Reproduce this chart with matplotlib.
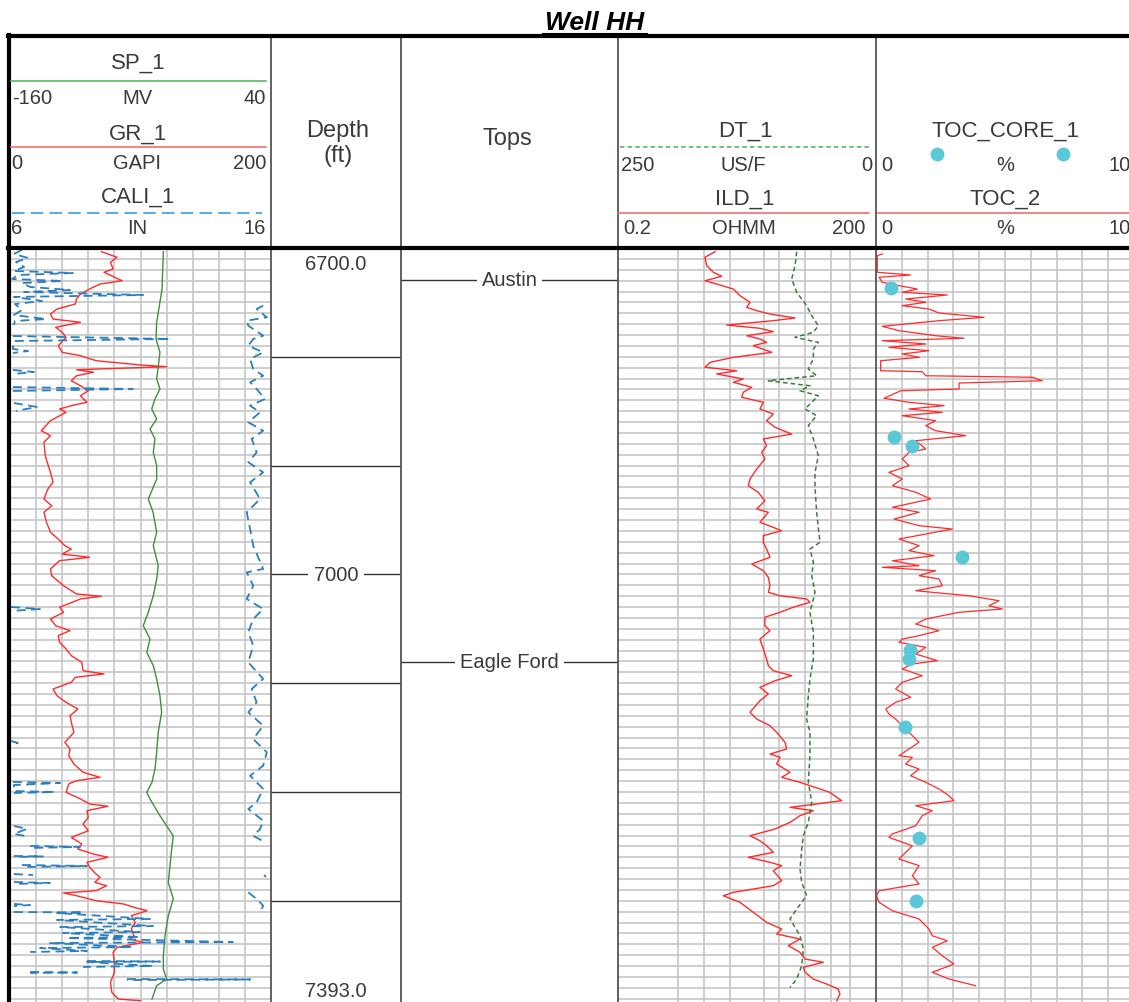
import numpy as np
import matplotlib
matplotlib.use('Agg')
import matplotlib.pyplot as plt
from matplotlib.ticker import NullLocator

plt.rcParams['font.family'] = ['Liberation Sans', 'DejaVu Sans']

NaN = float('nan')

# depth range of the plot (ft)
TOP_DEPTH = 6700.0
BASE_DEPTH = 7393.0

GR_LOG = [(6703.4, 70), (6708.5, 82), (6713.1, 77), (6719.3, 79), (6722.3, 72), (6730.1, 86),
          (6733.1, 69), (6737.7, 61), (6742.3, 54), (6746.9, 51), (6751.5, 50), (6756.1, 36),
          (6760.7, 31), (6765.3, 33), (6768.3, 54), (6772.9, 35), (6777.5, 40), (6782.1, 43),
          (6789.8, 37), (6795.9, 40), (6799.0, 54), (6803.6, 66), (6807.5, 100), (6809.1, 120),
          (6811.9, 51), (6814.2, 64), (6817.4, 51), (6822.0, 47), (6826.6, 54), (6831.2, 60),
          (6835.8, 54), (6841.8, 59), (6844.9, 47), (6848.0, 38), (6851.0, 43), (6858.7, 31),
          (6867.9, 24), (6872.5, 31), (6878.6, 26), (6890.9, 27), (6906.2, 31), (6915.3, 33),
          (6921.5, 29), (6930.7, 26), (6936.9, 32), (6942.9, 26), (6952.1, 28), (6961.3, 31),
          (6967.5, 37), (6973.6, 42), (6976.7, 47), (6981.3, 40), (6984.3, 61), (6987.4, 38),
          (6995.0, 31), (7001.2, 32), (7010.4, 41), (7018.0, 51), (7020.1, 70), (7022.6, 54),
          (7030.2, 38), (7034.8, 41), (7041.0, 31), (7047.1, 35), (7051.7, 46), (7056.3, 37),
          (7062.4, 38), (7068.6, 43), (7074.7, 47), (7080.8, 55), (7088.5, 56), (7091.5, 72),
          (7094.6, 50), (7099.2, 47), (7105.3, 33), (7111.5, 36), (7117.6, 43), (7123.7, 52),
          (7129.9, 46), (7136.0, 47), (7145.2, 49), (7154.4, 42), (7160.5, 46), (7166.6, 45),
          (7174.3, 49), (7181.9, 56), (7186.5, 69), (7189.6, 51), (7192.6, 45), (7200.3, 43),
          (7206.4, 54), (7211.0, 61), (7213.1, 75), (7217.2, 59), (7223.3, 60), (7229.4, 56),
          (7235.6, 60), (7241.7, 47), (7247.8, 55), (7252.4, 52), (7257.0, 64), (7260.0, 75),
          (7264.6, 59), (7269.2, 61), (7275.4, 66), (7278.4, 69), (7283.0, 65), (7286.1, 74),
          (7290.7, 66), (7292.8, 41), (7295.3, 51), (7299.9, 66), (7302.9, 87), (7306.0, 95),
          (7309.1, 105), (7313.7, 93), (7319.8, 96), (7325.9, 93), (7332.1, 95), (7335.1, 92),
          (7338.2, 102), (7342.8, 82), (7347.4, 79), (7356.6, 80), (7365.8, 80), (7374.9, 77),
          (7384.1, 78), (7390.3, 83), (7391.8, 100)]

SP_LOG = [(6703.4, -42.5), (6737.7, -43.5), (6768.3, -47.6), (6783.6, -48.1), (6795.9, -45.1),
          (6809.1, -46.4), (6820.4, -47.6), (6829.6, -45.1), (6838.8, -48.9), (6848.0, -51.4),
          (6857.2, -47.6), (6866.4, -52.7), (6875.5, -48.9), (6887.8, -50.2), (6900.1, -47.6),
          (6912.3, -47.6), (6930.7, -54.0), (6942.9, -50.4), (6961.3, -47.6), (6973.6, -50.2),
          (6992.0, -46.4), (7004.2, -47.6), (7019.6, -50.2), (7034.8, -54.0), (7047.1, -57.9),
          (7059.4, -52.7), (7071.6, -55.2), (7083.9, -50.2), (7096.1, -47.6), (7111.5, -45.1),
          (7126.7, -43.8), (7145.1, -46.4), (7163.5, -47.6), (7178.9, -48.9), (7191.1, -51.2),
          (7200.3, -55.2), (7206.4, -52.7), (7221.8, -45.1), (7240.2, -34.9), (7252.4, -36.1),
          (7267.7, -37.4), (7283.0, -38.7), (7298.3, -34.9), (7313.7, -38.7), (7332.1, -41.2),
          (7350.5, -42.5), (7362.7, -42.5), (7371.9, -39.9), (7378.0, -47.6), (7390.3, -51.2)]

# caliper as displayed (wraps at 16 in), NaN = break in the curve
CALI_LOG = [(6701.8, 6.46), (6705.5, 6.15), (6709.2, 6.69), (6712.9, 6.23), (6717.5, 6.54),
            (6721.1, 6.15), (6723.0, 8.41), (6724.8, 6.31), (6728.5, 6.08), (6730.3, 8.03),
            (6732.2, 6.46), (6735.8, 6.77), (6738.6, 8.30), (6740.4, 6.54), (6743.2, 11.10),
            (6745.0, 6.15), (6748.7, 7.23), (6751.5, 6.19), (6757.0, 6.46), (6761.6, 6.15),
            (6765.3, 7.38), (6767.1, 6.19), (6770.8, 6.15), (NaN, NaN),
            (6780.9, 6.11), (6783.6, 12.13), (6785.5, 6.15), (6792.8, 6.11), (6794.7, 6.69),
            (6796.5, 6.11), (NaN, NaN),
            (6812.1, 6.11), (6814.0, 6.92), (6815.8, 6.11), (NaN, NaN),
            (6827.8, 6.11), (6829.6, 10.71), (6831.4, 6.11), (NaN, NaN),
            (6842.5, 6.15), (6846.1, 7.03), (6849.8, 6.23), (NaN, NaN),
            (7030.0, 6.04), (7031.8, 7.15), (7033.6, 6.04), (NaN, NaN),
            (7153.1, 6.04), (7154.9, 6.30), (7156.7, 6.04), (NaN, NaN),
            (6753.0, 15.70), (6756.1, 15.45), (6763.7, 15.84), (6766.8, 15.07), (6771.4, 15.13),
            (6780.6, 15.70), (6783.6, 15.32), (6789.8, 15.13), (6795.9, 15.70), (6802.0, 15.20),
            (6811.2, 15.32), (6817.4, 15.70), (6823.4, 15.20), (6829.6, 15.45), (6838.8, 15.77),
            (6844.9, 15.20), (6851.0, 15.58), (6860.2, 15.13), (6867.9, 15.70), (6875.5, 15.26),
            (6887.8, 15.45), (6896.9, 15.13), (6906.2, 15.70), (6915.3, 15.20), (6930.7, 15.58),
            (6942.9, 15.07), (6958.3, 15.20), (6973.6, 15.32), (6995.0, 15.70), (6998.1, 15.07),
            (7010.4, 15.32), (7022.6, 15.07), (7031.8, 15.70), (7041.0, 15.32), (7053.2, 15.13),
            (7065.5, 15.32), (7080.8, 15.13), (7096.1, 15.70), (7105.3, 15.26), (7117.6, 15.45),
            (7126.7, 15.13), (7139.1, 15.70), (7151.3, 15.32), (7163.5, 15.84), (7175.8, 15.70),
            (7185.0, 15.20), (7197.2, 15.70), (7209.5, 15.45), (7215.6, 15.13), (7226.4, 15.70),
            (7234.1, 15.58), (7240.2, 15.32), (7246.2, 15.77), (NaN, NaN),
            (7276.3, 15.73), (7278.1, 15.81), (NaN, NaN),
            (7292.2, 15.13), (7298.3, 15.45), (7304.5, 15.70), (7310.6, 15.58), (NaN, NaN),
            (7190.8, 6.11), (7191.7, 7.92), (7193.6, 6.15), (7199.1, 6.15), (7200.0, 7.72),
            (7200.9, 6.15), (NaN, NaN),
            (7231.2, 6.15), (7233.9, 6.65), (7238.5, 6.15), (7240.3, 6.57), (NaN, NaN),
            (7249.6, 6.77), (7250.5, 8.68), (7251.4, 6.77), (NaN, NaN),
            (7258.8, 6.15), (7259.2, 7.26), (7259.7, 6.15), (NaN, NaN),
            (7267.1, 6.46), (7268.0, 8.95), (7268.9, 6.50), (NaN, NaN),
            (7275.4, 6.15), (7276.3, 6.88), (NaN, NaN),
            (7282.7, 6.15), (7283.6, 7.53), (7284.5, 6.15), (NaN, NaN),
            (7302.9, 6.15), (7303.9, 6.77), (7304.8, 6.15), (NaN, NaN),
            (7310.3, 6.15), (7310.7, 8.80), (7311.2, 7.80), (7316.7, 11.36), (7317.6, 7.80),
            (7323.2, 11.48), (7324.1, 7.92), (7328.7, 10.98), (7329.6, 8.03), (7333.3, 10.98),
            (7334.2, 8.18), (7337.9, 14.54), (7338.8, 7.53), (7342.5, 10.71), (7343.4, 7.15),
            (7346.1, 8.95), (7347.0, 6.77), (NaN, NaN),
            (7355.3, 8.95), (7355.8, 11.75), (7356.2, 8.95), (7359.9, 11.48), (7360.8, 8.80),
            (NaN, NaN),
            (7365.4, 6.77), (7365.9, 8.57), (7366.3, 6.77), (NaN, NaN),
            (7371.9, 10.48), (7372.3, 15.20), (7372.8, 10.48)]

ILD_LOG = [(6703.4, 2.69), (6708.5, 2.05), (6716.3, 2.15), (6722.3, 2.57), (6726.0, 3.21),
           (6730.1, 2.05), (6733.1, 2.81), (6737.7, 4.38), (6743.8, 5.25), (6749.9, 6.86),
           (6754.5, 6.28), (6757.6, 8.21), (6760.7, 11.7), (6764.3, 22.9), (6766.8, 12.8),
           (6770.8, 3.67), (6773.8, 8.95), (6776.9, 12.8), (6780.6, 6.28), (6783.6, 8.95),
           (6786.7, 10.7), (6789.8, 7.49), (6795.9, 12.3), (6800.5, 4.38), (6805.1, 2.35),
           (6809.6, 2.05), (6812.8, 4.80), (6815.8, 2.81), (6820.4, 5.73), (6823.4, 4.38),
           (6828.0, 7.18), (6832.6, 5.73), (6837.2, 5.48), (6841.8, 9.79), (6848.0, 8.95),
           (6852.6, 12.8), (6858.7, 10.7), (6864.8, 13.4), (6871.0, 20.9), (6875.5, 9.79),
           (6881.7, 10.7), (6887.8, 9.37), (6893.9, 10.2), (6903.1, 8.21), (6912.3, 6.86),
           (6918.5, 6.55), (6924.5, 8.55), (6932.3, 10.2), (6939.9, 8.21), (6942.9, 11.2),
           (6952.1, 8.95), (6959.8, 16.0), (6964.4, 9.79), (6970.5, 9.79), (6976.7, 10.7),
           (6984.3, 11.7), (6990.4, 7.18), (6996.6, 9.79), (7002.7, 11.2), (7010.4, 11.7),
           (7016.4, 11.2), (7019.6, 15.3), (7022.6, 31.3), (7025.6, 34.2), (7030.2, 21.8),
           (7034.8, 15.3), (7039.4, 10.2), (7047.1, 10.2), (7051.7, 11.7), (7059.4, 8.95),
           (7068.6, 9.79), (7077.8, 10.7), (7083.9, 11.2), (7088.5, 12.8), (7093.1, 20.9),
           (7097.7, 13.4), (7103.8, 8.95), (7109.9, 11.2), (7116.1, 8.95), (7126.7, 6.86),
           (7132.9, 8.21), (7139.1, 11.7), (7145.1, 14.0), (7154.3, 17.5), (7160.5, 18.3),
           (7165.1, 11.7), (7168.1, 15.3), (7174.3, 14.0), (7181.9, 20.0), (7186.5, 16.0),
           (7191.1, 26.1), (7200.3, 58.3), (7208.0, 79.8), (7211.0, 40.9), (7214.1, 20.0),
           (7217.2, 37.3), (7221.8, 26.1), (7227.9, 20.0), (7234.0, 13.4), (7240.2, 6.86),
           (7244.8, 8.95), (7249.4, 10.7), (7255.4, 12.8), (7260.0, 6.55), (7264.6, 11.7),
           (7267.7, 16.0), (7272.3, 12.8), (7281.5, 16.0), (7286.1, 12.8), (7292.2, 4.38),
           (7295.3, 3.35), (7301.4, 5.25), (7310.6, 7.49), (7319.8, 10.7), (7325.9, 16.0),
           (7330.5, 14.0), (7335.1, 26.1), (7341.2, 19.1), (7347.3, 26.1), (7353.5, 29.9),
           (7356.5, 48.8), (7361.1, 28.6), (7365.7, 29.9), (7371.9, 37.3), (7376.5, 53.4),
           (7381.1, 72.9), (7385.7, 76.2), (7391.8, 69.8)]

DT_LOG = [(6703.4, 76.8), (6716.3, 78.5), (6728.5, 81.7), (6740.7, 76.8), (6753.0, 67.2),
          (6762.2, 62.3), (6771.4, 55.9), (6777.5, 60.7), (6782.1, 78.5), (6786.7, 55.9),
          (6792.8, 60.7), (6802.0, 60.7), (6811.2, 65.6), (6817.4, 57.5), (6822.0, 104.4),
          (6826.6, 64.0), (6831.2, 73.6), (6835.8, 55.9), (6841.8, 62.3), (6848.0, 68.8),
          (6854.1, 57.5), (6863.3, 65.6), (6875.5, 60.7), (6890.9, 55.9), (6906.2, 59.1),
          (6919.9, 59.1), (6942.9, 57.5), (6970.5, 54.3), (6976.7, 64.0), (6988.9, 60.7),
          (7001.2, 62.3), (7016.4, 59.1), (7034.8, 64.0), (7053.2, 60.7), (7077.8, 60.7),
          (7096.1, 64.0), (7111.5, 65.6), (7132.9, 67.2), (7145.1, 64.0), (7166.6, 64.0),
          (7191.1, 65.6), (7209.5, 62.3), (7227.9, 65.6), (7240.2, 70.4), (7252.4, 72.0),
          (7270.8, 73.6), (7283.0, 72.0), (7295.3, 67.2), (7307.5, 76.8), (7316.7, 83.3),
          (7332.1, 73.6), (7344.3, 70.4), (7359.6, 72.0), (7371.9, 76.8), (7379.5, 83.3)]

TOC_LOG = [(6705.5, 0.24), (6707.1, 0.05), (6722.3, 0.05), (6724.8, 1.34), (6726.9, 0.12),
           (6731.5, 0.24), (6734.6, 0.89), (6737.7, 1.60), (6740.7, 1.02), (6743.2, 2.76),
           (6746.9, 1.15), (6749.9, 1.93), (6753.0, 1.02), (6756.1, 2.05), (6759.7, 2.44),
           (6763.7, 4.19), (6766.8, 2.44), (6772.0, 0.24), (6776.0, 0.89), (6780.6, 2.31),
           (6783.0, 3.41), (6785.2, 0.24), (6788.2, 1.93), (6791.3, 0.50), (6794.4, 2.05),
           (6797.4, 1.02), (6800.5, 1.67), (6803.6, 0.18), (6812.8, 0.18), (6813.7, 1.79),
           (6817.4, 1.93), (6818.8, 6.06), (6822.0, 6.45), (6824.1, 3.22), (6829.6, 3.22),
           (6831.2, 0.96), (6838.1, 0.31), (6841.8, 1.28), (6844.9, 2.64), (6848.0, 1.28),
           (6851.0, 2.57), (6854.1, 1.02), (6858.7, 2.31), (6863.3, 1.93), (6867.9, 2.31),
           (6872.5, 3.48), (6877.1, 1.54), (6884.7, 1.93), (6887.8, 1.28), (6893.9, 1.02),
           (6900.1, 1.28), (6906.2, 0.50), (6912.3, 1.02), (6918.5, 0.64), (6924.5, 1.54),
           (6930.7, 2.12), (6938.3, 0.64), (6942.9, 1.67), (6949.1, 0.70), (6955.2, 1.67),
           (6958.3, 2.96), (6962.9, 1.93), (6967.5, 0.89), (6973.6, 1.67), (6978.2, 1.28),
           (6982.8, 2.25), (6987.4, 0.64), (6992.0, 1.67), (6993.5, 0.24), (6996.6, 2.31),
           (7001.2, 1.67), (7004.2, 2.44), (7010.4, 2.57), (7015.0, 1.54), (7019.6, 3.60),
           (7024.2, 4.77), (7028.8, 4.38), (7031.8, 4.90), (7034.8, 3.22), (7041.0, 1.93),
           (7045.6, 1.54), (7051.7, 2.44), (7056.3, 1.67), (7059.4, 1.02), (7062.4, 0.89),
           (7067.0, 1.93), (7073.2, 1.54), (7079.3, 2.38), (7082.3, 1.41), (7086.9, 1.02),
           (7093.1, 1.79), (7099.2, 1.02), (7105.3, 0.76), (7112.9, 1.34), (7117.6, 0.76),
           (7123.7, 0.38), (7128.3, 0.50), (7132.9, 0.76), (7145.1, 1.28), (7154.3, 1.67),
           (7160.5, 1.28), (7166.6, 0.89), (7168.1, 1.41), (7174.3, 1.15), (7178.9, 1.67),
           (7185.0, 1.34), (7191.1, 1.93), (7197.2, 2.44), (7203.4, 2.83), (7208.0, 3.02),
           (7212.6, 1.54), (7217.2, 2.18), (7221.8, 1.79), (7231.0, 1.54), (7238.6, 0.63),
           (7241.7, 0.50), (7249.4, 1.41), (7261.6, 0.89), (7267.7, 1.67), (7276.9, 1.41),
           (7284.5, 1.67), (7290.7, 0.12), (7295.3, 0.02), (7301.4, 0.12), (7309.1, 0.63),
           (7316.7, 1.67), (7325.9, 2.05), (7332.1, 2.18), (7336.7, 2.76), (7342.8, 2.18),
           (7350.5, 2.57), (7358.1, 3.02), (7365.7, 2.18), (7371.9, 2.83), (7378.0, 3.86)]

TOC_CORE = [(6737.0, 0.57), (6873.4, 0.70), (6882.3, 1.38), (6983.7, 3.32), (7069.5, 1.31),
            (7077.7, 1.28), (7140.5, 1.11), (7242.5, 1.67), (7300.5, 1.54)]

TOPS = ['Austin', 'Eagle Ford']
TOPS_DEPTH = [6729.4, 7080.5]

DEPTH_LINES = [6800, 6900, 7000, 7100, 7200, 7300]
DEPTH_LABELS = {7000: '7000'}

# vertical grid of the resistivity track
ILD_GRID = [1, 2, 4, 10, 15, 30, 60, 100]

RED = '#ff2b2b'
GRID = '#c6c6c6'
TXT = '#3a3a3a'

W, H = 1129, 1003
fig = plt.figure(figsize=(W / 100, H / 100), dpi=100)


def px_axes(x0, x1, y0, y1):
    return fig.add_axes([x0 / W, 1 - y1 / H, (x1 - x0) / W, (y1 - y0) / H])


def body(x0, x1):
    ax = px_axes(x0, x1, 249, H)
    ax.set_ylim(BASE_DEPTH, TOP_DEPTH)
    for s in ax.spines.values():
        s.set_visible(False)
    ax.tick_params(length=0, labelbottom=False, labelleft=False)
    return ax


def add_grid(ax, xticks):
    ax.set_xticks(xticks)
    ax.xaxis.set_minor_locator(NullLocator())
    ax.set_yticks(np.arange(TOP_DEPTH + 10, BASE_DEPTH, 10))
    ax.yaxis.set_minor_locator(NullLocator())
    ax.grid(True, color=GRID, lw=1.2)
    ax.set_axisbelow(True)


def twin(ax, lo, hi, log=False):
    t = ax.twiny()
    if log:
        t.set_xscale('log')
    t.set_xlim(lo, hi)
    t.axis('off')
    return t


def cols(pairs):
    a = np.array(pairs, dtype=float)
    return a[:, 0], a[:, 1]


# ---- track 1: GR / SP / CALI ----
ax1 = body(10, 271)
ax1.set_xlim(0, 200)
add_grid(ax1, np.arange(20, 200, 20))
d, v = cols(GR_LOG)
ax1.plot(v, d, color=RED, lw=1.0)
sp = twin(ax1, -160, 40)
d, v = cols(SP_LOG)
sp.plot(v, d, color='#3f8f3f', lw=1.0)
cal = twin(ax1, 6, 16)
d, v = cols(CALI_LOG)
cal.plot(v, d, color='#2b7fc0', lw=1.3, ls=(0, (5, 3)))

# ---- depth track ----
axd = body(271, 401)
axd.set_xticks([])
axd.set_yticks([])
for dep in DEPTH_LINES:
    axd.axhline(dep, color='#333333', lw=1.0)
    if dep in DEPTH_LABELS:
        axd.text(0.5, dep, DEPTH_LABELS[dep], transform=axd.get_yaxis_transform(),
                 ha='center', va='center', fontsize=14.5, color=TXT,
                 bbox=dict(fc='white', ec='none', pad=4))
axd.text(0.5, 6714.5, '%.1f' % TOP_DEPTH, transform=axd.get_yaxis_transform(),
         ha='center', va='center', fontsize=14.5, color=TXT)
axd.text(0.5, 7382.5, '%.1f' % BASE_DEPTH, transform=axd.get_yaxis_transform(),
         ha='center', va='center', fontsize=14.5, color=TXT)

# ---- tops track ----
axt = body(401, 618)
axt.set_xticks([])
axt.set_yticks([])
for name, dep in zip(TOPS, TOPS_DEPTH):
    axt.axhline(dep, color='#333333', lw=1.0)
    axt.text(0.5, dep, name, transform=axt.get_yaxis_transform(), ha='center',
             va='center', fontsize=14.5, color=TXT,
             bbox=dict(fc='white', ec='none', pad=3.5))

# ---- track 4: ILD / DT ----
ax4 = body(618, 876)
ax4.set_xscale('log')
ax4.set_xlim(0.2, 200)
add_grid(ax4, ILD_GRID)
d, v = cols(ILD_LOG)
ax4.plot(v, d, color=RED, lw=1.0)
dt = twin(ax4, 250, 0)
d, v = cols(DT_LOG)
dt.plot(v, d, color='#3a7d3a', lw=1.1, ls=(0, (3, 2)))

# ---- track 5: TOC ----
ax5 = body(876, 1134)
ax5.set_xlim(0, 10)
add_grid(ax5, np.arange(1, 10, 1))
d, v = cols(TOC_LOG)
ax5.plot(v, d, color=RED, lw=0.9)
d, v = cols(TOC_CORE)
ax5.plot(v, d, 'o', color='#5bc8d8', ms=10, mec='none', clip_on=False)

# ---- overlay: header, borders, title (pixel coordinates) ----
ov = fig.add_axes([0, 0, 1, 1], zorder=10)
ov.set_xlim(0, W)
ov.set_ylim(H, 0)
ov.axis('off')

for x in [271, 401, 618, 876]:
    ov.plot([x, x], [37, H], color='#555555', lw=1.3)
ov.plot([9, 9], [36, H], color='black', lw=3)
ov.plot([8, W], [37, 37], color='black', lw=3)
ov.plot([8, W], [249, 249], color='black', lw=3)

ov.text(595, 23, 'Well HH', ha='center', va='center', fontsize=19,
        fontweight='bold', fontstyle='italic', color='black')
ov.plot([543, 647], [35, 35], color='black', lw=1.5)


def head(x, y, s, size=16, ha='center'):
    ov.text(x, y, s, ha=ha, va='center', fontsize=size, color=TXT)


def scale(xl, xc, xr, y, lo, unit, hi):
    head(xl, y, lo, 14.5, 'left')
    head(xc, y, unit, 14.5)
    head(xr, y, hi, 14.5, 'right')


# track 1 header
head(138, 63, 'SP_1')
ov.plot([11, 266], [82, 82], color='#5cb85c', lw=1.2)
scale(12, 137, 266, 98, '-160', 'MV', '40')
head(138, 134, 'GR_1')
ov.plot([11, 266], [148, 148], color='#f07070', lw=1.2)
scale(11, 137, 266, 163, '0', 'GAPI', '200')
head(138, 197, 'CALI_1')
ov.plot([12, 262], [214, 214], color='#5dade2', lw=1.5, ls=(0, (6, 3)))
scale(11, 137, 266, 228, '6', 'IN', '16')

# depth / tops header
head(338, 131, 'Depth', 17)
head(338, 156, '(ft)', 17)
head(507, 139, 'Tops', 17)

# track 4 header
head(745, 131, 'DT_1')
ov.plot([620, 872], [148, 148], color='#4caf50', lw=1.1, ls=(0, (3, 2)))
scale(621, 743, 872, 165, '250', 'US/F', '0')
head(745, 199, 'ILD_1')
ov.plot([618, 869], [214, 214], color='#f07070', lw=1.2)
scale(623, 744, 865, 228, '0.2', 'OHMM', '200')

# track 5 header
head(1005, 131, 'TOC_CORE_1')
ov.plot([937, 1063], [155, 155], 'o', color='#5bc8d8', ms=10, mec='none')
scale(881, 1005, 1131, 165, '0', '%', '10')
head(1005, 199, 'TOC_2')
ov.plot([878, W], [214, 214], color='#f07070', lw=1.2)
scale(881, 1005, 1131, 228, '0', '%', '10')

fig.savefig('out.png', dpi=100)
